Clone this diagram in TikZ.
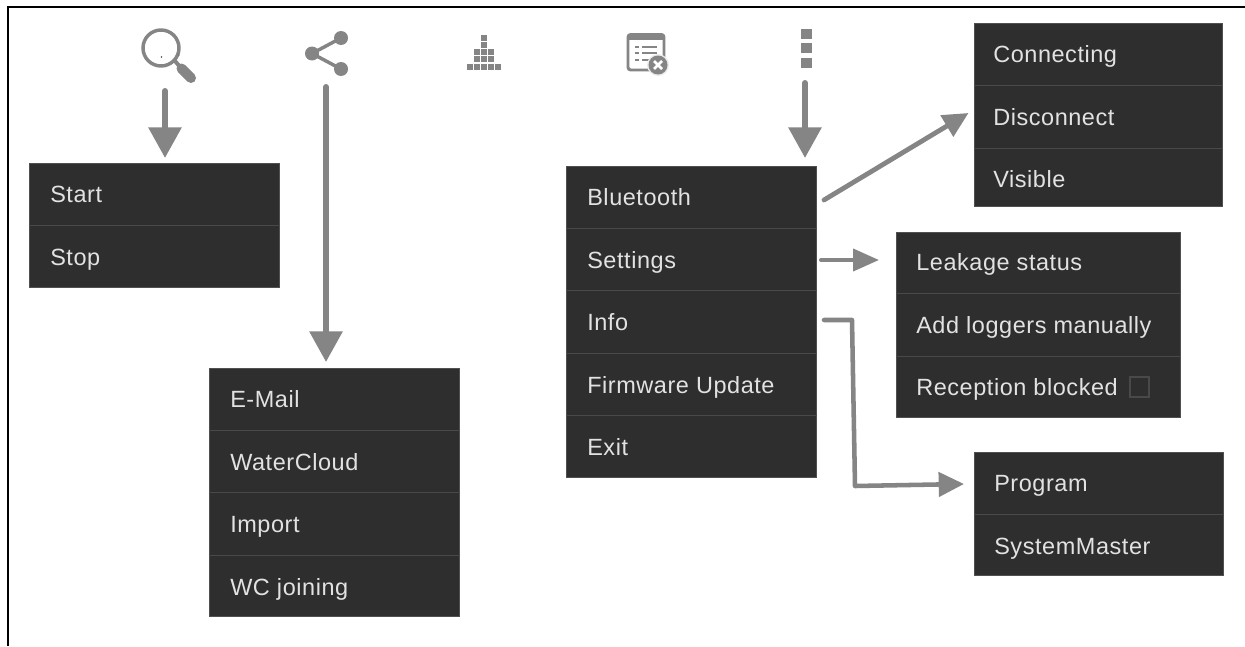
\documentclass[tikz,border=0pt]{standalone}
\usepackage{fontspec}
\setmainfont[LetterSpace=2.4]{Liberation Sans}
\usetikzlibrary{arrows.meta}
\definecolor{menubg}{HTML}{2E2E2E}
\definecolor{menusep}{HTML}{494949}
\definecolor{menuedge}{HTML}{505050}
\definecolor{menutxt}{HTML}{E2E2E2}
\definecolor{arrowgrey}{HTML}{858585}
\tikzset{
  x=0.75pt,y=-0.75pt,
  menubox/.style={fill=menubg,draw=menuedge,line width=0.4pt},
  sepline/.style={draw=menusep,line width=0.75pt},
  itemtext/.style={anchor=base west,text=menutxt,font=\fontsize{17.6}{20}\selectfont,inner sep=0pt},
  bigarrow/.style={draw=arrowgrey,line width=4.5pt,line cap=round,-{Triangle[length=23pt,width=24pt,sharp]}},
  smallarrow/.style={draw=arrowgrey,line width=3.2pt,line cap=round,line join=round,-{Triangle[length=19pt,width=18pt,sharp]}},
}
\begin{document}
\begin{tikzpicture}
\useasboundingbox (0,0) rectangle (1245,646);
\fill[white] (0,0) rectangle (1245,646);
% frame
\coordinate (ftl) at (7.5,6.5);
\coordinate (ftr) at (1245,6.5);
\coordinate (fbl) at (7.5,646);
\draw[black,line width=1.5pt] (ftr) -- (ftl) -- (fbl);
% menus
\path[menubox] (29,163) rectangle (279.5,287.5);
\draw[sepline] (29,225.5) -- (279.5,225.5);
\node[itemtext] (start) at (50,202) {Start};
\node[itemtext] (stop) at (50,265) {Stop};
\path[menubox] (209,368) rectangle (459.5,616.5);
\foreach \y in {430.5,492.5,555.5}{\draw[sepline] (209,\y) -- (459.5,\y);}
\node[itemtext] (email) at (230,407) {E-Mail};
\node[itemtext] (cloud) at (230,470) {WaterCloud};
\node[itemtext] (import) at (230,532) {Import};
\node[itemtext] (wc) at (230,595) {WC joining};
\path[menubox] (566,166) rectangle (816.5,477.5);
\foreach \y in {228.5,290.5,353.5,415.5}{\draw[sepline] (566,\y) -- (816.5,\y);}
\node[itemtext] (bt) at (587,205) {Bluetooth};
\node[itemtext] (settings) at (587,268) {Settings};
\node[itemtext] (info) at (587,330) {Info};
\node[itemtext] (fw) at (587,393) {Firmware Update};
\node[itemtext] (exit) at (587,455) {Exit};
\path[menubox] (974,23) rectangle (1222.5,206.5);
\foreach \y in {85.5,148.5}{\draw[sepline] (974,\y) -- (1222.5,\y);}
\node[itemtext] (conn) at (993,62) {Connecting};
\node[itemtext] (disc) at (993,125) {Disconnect};
\node[itemtext] (vis) at (993,187) {Visible};
\path[menubox] (896,232) rectangle (1180.5,417.5);
\foreach \y in {293.5,356.5}{\draw[sepline] (896,\y) -- (1180.5,\y);}
\node[itemtext] (leak) at (916,270.5) {Leakage status};
\node[itemtext] (add) at (916,333) {Add loggers manually};
\node[itemtext] (rec) at (916,395.5) {Reception blocked};
\draw[menusep,line width=0.8pt] (1130,377) rectangle (1149,397);
\path[menubox] (974,452) rectangle (1223.5,575.5);
\draw[sepline] (974,514.5) -- (1223.5,514.5);
\node[itemtext] (prog) at (994,491.5) {Program};
\node[itemtext] (sys) at (994,554) {SystemMaster};
% icons
\draw[arrowgrey,line width=2.6pt] (161,48) circle (18);
\draw[arrowgrey,line width=3pt] (175,61) -- (181,68);
\draw[arrowgrey,line width=7.5pt,line cap=round] (181.5,68.5) -- (191,78);
\fill[black!70] (161.5,57) circle (0.8);
\fill[black!70] (179,55) circle (0.7);
\fill[arrowgrey] (341,38) circle (7) (341,69) circle (7) (312,53.5) circle (7);
\draw[arrowgrey,line width=2.6pt] (341,38) -- (312,53.5) -- (341,69);
\foreach \cx/\cy in {484/38,484/45,
  477/52,484/52,491/52,
  477/59,484/59,491/59,
  470/67,477/67,484/67,491/67,498/67}{
  \fill[arrowgrey] (\cx-3,\cy-3) rectangle (\cx+3,\cy+3);
}
\draw[arrowgrey,line width=2.2pt,rounded corners=2pt] (664,60) -- (664,34.5) -- (628,34.5) -- (628,70) -- (650,70);
\fill[arrowgrey] (628,34) rectangle (664,40);
\foreach \y/\e in {47/657,53/657,60/650}{
  \draw[arrowgrey,line width=1.6pt] (635,\y) -- (639,\y);
  \draw[arrowgrey,line width=1.6pt] (642,\y) -- (\e,\y);
}
\fill[white!92!black] (658,65) circle (11);
\fill[arrowgrey] (658,65) circle (9.5);
\draw[white,line width=2pt] (654,61) -- (662,69) (662,61) -- (654,69);
\foreach \y in {34,48,62.5}{\fill[arrowgrey] (801,\y-5) rectangle (812,\y+5);}
% connectors
\coordinate (a1) at (165,91);
\coordinate (a2) at (326,87);
\coordinate (a3) at (805,83);
\coordinate (a4) at (824,200);
\coordinate (a5) at (821,260);
\coordinate (a6) at (824,320);
\coordinate (e1) at (165,158);
\coordinate (e2) at (326,362);
\coordinate (e3) at (805,158);
\coordinate (e4) at (968.5,113);
\coordinate (e5) at (879,260);
\coordinate (e6) at (964,484);
\draw[bigarrow] (a1) -- (e1);
\draw[bigarrow] (a2) -- (e2);
\draw[bigarrow] (a3) -- (e3);
\draw[smallarrow,line width=3.6pt] (a4) -- (e4);
\draw[smallarrow,line width=3pt,-{Triangle[length=19.5pt,width=16.5pt,sharp]}] (a5) -- (e5);
\draw[smallarrow,line width=3.4pt] (a6) -- (852,320) -- (855,486) -- (e6);
\end{tikzpicture}
\end{document}
